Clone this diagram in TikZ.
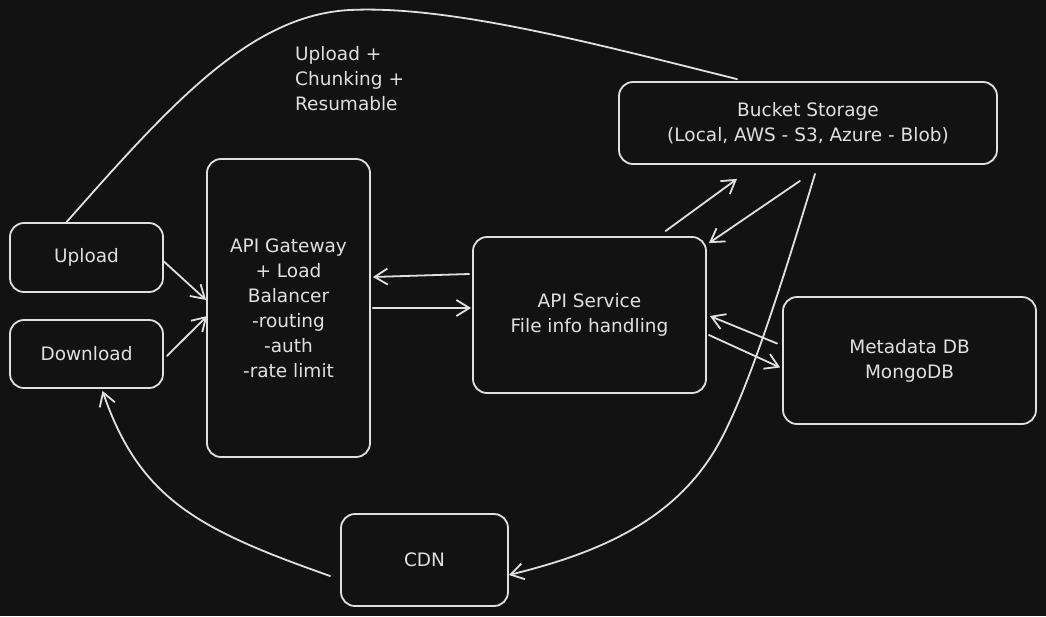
\documentclass[tikz,border=0pt]{standalone}
\usepackage{fontspec}
\setmainfont{DejaVu Sans}
\usetikzlibrary{arrows.meta,calc}
\definecolor{bg}{HTML}{121212}
\definecolor{ink}{HTML}{E0E0E0}
\begin{document}
\begin{tikzpicture}[x=1pt,y=-1pt,
  box/.style={draw=ink, line width=1.8pt, rounded corners=14pt, text=ink, align=center,
    inner sep=0pt, font=\fontsize{18.5}{25}\selectfont},
  lbl/.style={text=ink, align=left, inner sep=0pt, font=\fontsize{18.5}{25}\selectfont},
  conn/.style={draw=ink, line width=1.8pt, line cap=round,
    -{Straight Barb[length=13pt,width=16pt,line width=1.8pt]}},
  plain/.style={draw=ink, line width=1.8pt, line cap=round}]
\fill[bg] (0,0) rectangle (1046,616);
\useasboundingbox (0,0) rectangle (1046,616);

\node[box, minimum width=153pt, minimum height=69pt] (upload) at (86.5,257.5) {Upload};
\node[box, minimum width=153pt, minimum height=68pt] (download) at (86.5,354) {Download};
\node[box, minimum width=163pt, minimum height=298pt] (gateway) at (288.5,308)
  {API Gateway\\+ Load\\Balancer\\-routing\\-auth\\-rate limit};
\node[box, minimum width=233pt, minimum height=156pt] (service) at (589.5,315)
  {API Service\\File info handling};
\node[box, minimum width=378pt, minimum height=82pt] (bucket) at (808,123)
  {Bucket Storage\\(Local, AWS - S3, Azure - Blob)};
\node[box, minimum width=253pt, minimum height=127pt] (meta) at (909.5,360.5)
  {Metadata DB\\MongoDB};
\node[box, minimum width=167pt, minimum height=92pt] (cdn) at (424.5,560) {CDN};

\node[lbl, anchor=west] (note) at (295,79) {Upload +\\Chunking +\\Resumable};

% client -> gateway
\draw[conn] ($(upload.east)+(0,4)$) -- ($(gateway.west)+(0,-8)$);
\draw[conn] ($(download.east)+(3,2)$) -- ($(gateway.west)+(1,8)$);
% gateway <-> service
\draw[conn] ($(gateway.east)+(2,0)$) -- ($(service.west)+(-1,-7)$);
\draw[conn] ($(service.west)+(-3,-41)$) -- ($(gateway.east)+(2,-31)$);
% service <-> bucket
\draw[conn] ($(service.north)+(76,-5)$) -- ($(bucket.south)+(-71,14)$);
\draw[conn] ($(bucket.south)+(-8,16)$) -- ($(service.north east)+(2,7)$);
% service <-> metadata
\draw[conn] ($(service.east)+(2,20)$) -- ($(meta.west)+(-2,7)$);
\draw[conn] ($(meta.west)+(-5,-17)$) -- ($(service.east)+(3,1)$);
% upload -> bucket (direct chunked upload)
\draw[plain] ($(upload.north)+(-20,0)$) .. controls (170,105) and (250,15) .. (350,10)
  .. controls (450,5) and (600,45) .. ($(bucket.north)+(-71,-2)$);
% bucket -> cdn
\draw[conn] ($(bucket.south)+(7,9)$) .. controls (780,290) and (745,400) .. (715,450)
  .. controls (670,525) and (590,555) .. ($(cdn.east)+(0,15)$);
% cdn -> download
\draw[conn] ($(cdn.west)+(-10,16)$) .. controls (200,530) and (140,500) .. ($(download.south)+(16,2)$);
\end{tikzpicture}
\end{document}
